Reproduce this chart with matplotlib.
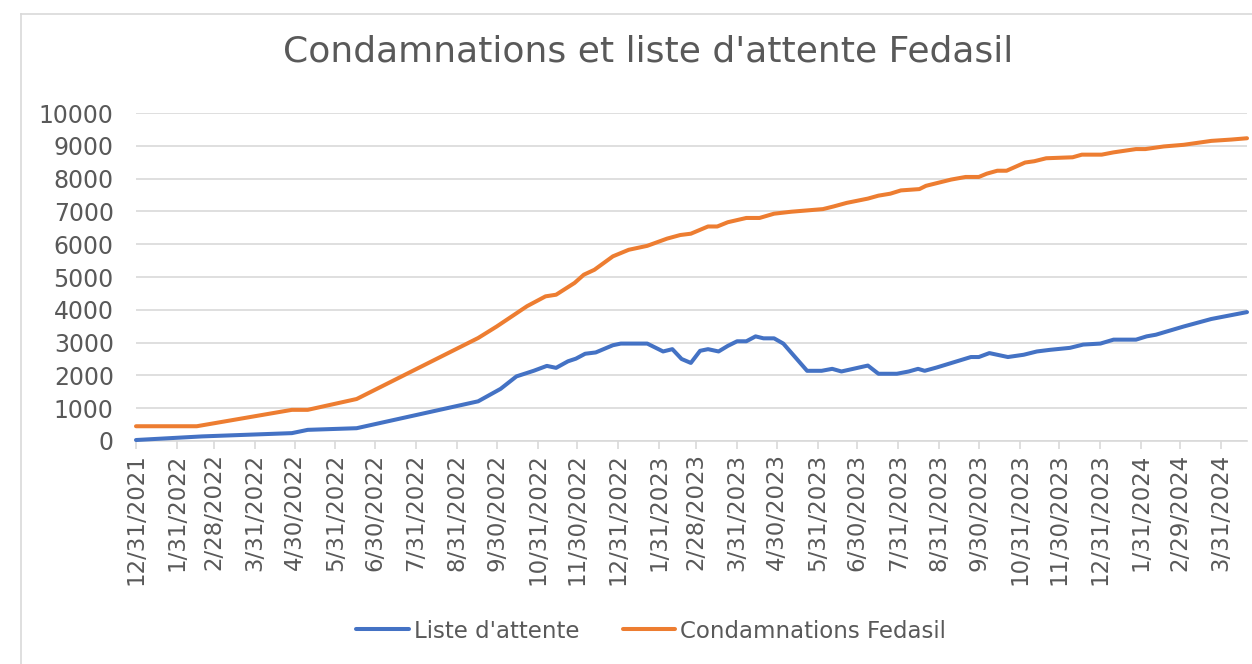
import matplotlib
matplotlib.use('Agg')
import matplotlib.pyplot as plt
import pandas as pd
from matplotlib.lines import Line2D

# Data
liste_dates = ['2021-12-31', '2022-02-19', '2022-04-28', '2022-05-10', '2022-06-16',
               '2022-09-16', '2022-10-03', '2022-10-15', '2022-10-28', '2022-11-07',
               '2022-11-14', '2022-11-23', '2022-11-29', '2022-12-06', '2022-12-14',
               '2022-12-27', '2023-01-02', '2023-01-22', '2023-02-03', '2023-02-10',
               '2023-02-17', '2023-02-24', '2023-03-03', '2023-03-09', '2023-03-17',
               '2023-03-24', '2023-03-31', '2023-04-07', '2023-04-14', '2023-04-20',
               '2023-04-28', '2023-05-05', '2023-05-23', '2023-06-03', '2023-06-11',
               '2023-06-18', '2023-07-08', '2023-07-16', '2023-07-30', '2023-08-08',
               '2023-08-15', '2023-08-20', '2023-08-29', '2023-09-24', '2023-09-30',
               '2023-10-08', '2023-10-22', '2023-11-03', '2023-11-13', '2023-11-23',
               '2023-12-08', '2023-12-18', '2023-12-31', '2024-01-10', '2024-01-27',
               '2024-02-04', '2024-02-11', '2024-03-03', '2024-03-24', '2024-04-20']
liste_values = [30, 140, 240, 340, 390,
                1210, 1590, 1970, 2140, 2290,
                2230, 2430, 2510, 2660, 2700,
                2920, 2970, 2970, 2730, 2800,
                2500, 2380, 2750, 2800, 2730,
                2900, 3040, 3040, 3190, 3130,
                3130, 2970, 2140, 2140, 2200,
                2120, 2300, 2050, 2050, 2120,
                2200, 2140, 2240, 2560, 2560,
                2680, 2560, 2630, 2730, 2780,
                2840, 2940, 2970, 3090, 3090,
                3190, 3240, 3490, 3720, 3930]

cond_dates = ['2021-12-31', '2022-02-15', '2022-04-28', '2022-05-10', '2022-06-16',
              '2022-09-16', '2022-09-30', '2022-10-23', '2022-11-06', '2022-11-14',
              '2022-11-28', '2022-12-05', '2022-12-13', '2022-12-27', '2023-01-08',
              '2023-01-22', '2023-02-06', '2023-02-16', '2023-02-24', '2023-03-09',
              '2023-03-16', '2023-03-24', '2023-04-07', '2023-04-17', '2023-04-28',
              '2023-05-11', '2023-06-04', '2023-06-12', '2023-06-22', '2023-07-08',
              '2023-07-16', '2023-07-25', '2023-08-02', '2023-08-16', '2023-08-21',
              '2023-08-30', '2023-09-09', '2023-09-20', '2023-09-30', '2023-10-06',
              '2023-10-14', '2023-10-21', '2023-11-04', '2023-11-11', '2023-11-20',
              '2023-12-10', '2023-12-17', '2024-01-01', '2024-01-10', '2024-01-27',
              '2024-02-03', '2024-02-17', '2024-03-03', '2024-03-24', '2024-04-08',
              '2024-04-20']
cond_values = [450, 450, 950, 950, 1280,
               3140, 3490, 4110, 4410, 4460,
               4820, 5070, 5220, 5630, 5830,
               5950, 6170, 6280, 6320, 6540,
               6540, 6670, 6800, 6800, 6930,
               6990, 7070, 7150, 7260, 7390,
               7480, 7540, 7640, 7680, 7780,
               7870, 7970, 8050, 8050, 8150,
               8240, 8240, 8490, 8530, 8620,
               8650, 8730, 8730, 8800, 8900,
               8900, 8980, 9030, 9150, 9190,
               9230]

title = "Condamnations et liste d'attente Fedasil"
labels = ["Liste d'attente", "Condamnations Fedasil"]
colors = ['#4472C4', '#ED7D31']
text_color = '#595959'
grid_color = '#D9D9D9'

plt.rcParams['font.family'] = ['DejaVu Sans']

fig = plt.figure(figsize=(12.52, 6.64), dpi=100)
ax = fig.add_axes([136 / 1252, 1 - 441 / 664, (1247 - 136) / 1252, (441 - 113) / 664])

ax.plot(pd.to_datetime(liste_dates), liste_values, color=colors[0], lw=2.9,
        solid_capstyle='round', solid_joinstyle='round', clip_on=False, zorder=3)
ax.plot(pd.to_datetime(cond_dates), cond_values, color=colors[1], lw=2.9,
        solid_capstyle='round', solid_joinstyle='round', clip_on=False, zorder=3)

ax.set_ylim(0, 10000)
ax.set_yticks(range(0, 10001, 1000))
ax.set_xlim(pd.Timestamp('2021-12-31'), pd.Timestamp('2024-04-20'))

month_ends = pd.date_range('2021-12-31', '2024-03-31', freq='ME')
ax.set_xticks(month_ends)
ax.set_xticklabels([f"{d.month}/{d.day}/{d.year}" for d in month_ends], rotation=90)

ax.grid(axis='y', color=grid_color, lw=1.2)
ax.set_axisbelow(True)
for side in ['top', 'right', 'left']:
    ax.spines[side].set_visible(False)
ax.spines['bottom'].set_color(grid_color)
ax.spines['bottom'].set_linewidth(1.2)
ax.tick_params(axis='x', colors=grid_color, length=6, width=1.2, labelcolor=text_color,
               labelsize=16.5, pad=3)
ax.tick_params(axis='y', length=0, labelcolor=text_color, labelsize=17, pad=16)

fig.text(0.5176, 1 - 52 / 664, title, ha='center', va='center', fontsize=26, color=text_color)

# chart area border (left and top edges visible)
fig.add_artist(Line2D([21 / 1252, 21 / 1252], [0, 1 - 14 / 664], transform=fig.transFigure,
                      color=grid_color, lw=1.2))
fig.add_artist(Line2D([21 / 1252, 1], [1 - 14 / 664, 1 - 14 / 664], transform=fig.transFigure,
                      color=grid_color, lw=1.2))

handles = [Line2D([], [], color=c, lw=2.9, solid_capstyle='round') for c in colors]
fig.legend(handles, labels, loc='center', bbox_to_anchor=(0.52, 1 - 631 / 664), ncol=2,
           frameon=False, fontsize=16.5, labelcolor=text_color, handlelength=2.3,
           handletextpad=0.2, columnspacing=1.9)

fig.savefig('out.png', dpi=100)
